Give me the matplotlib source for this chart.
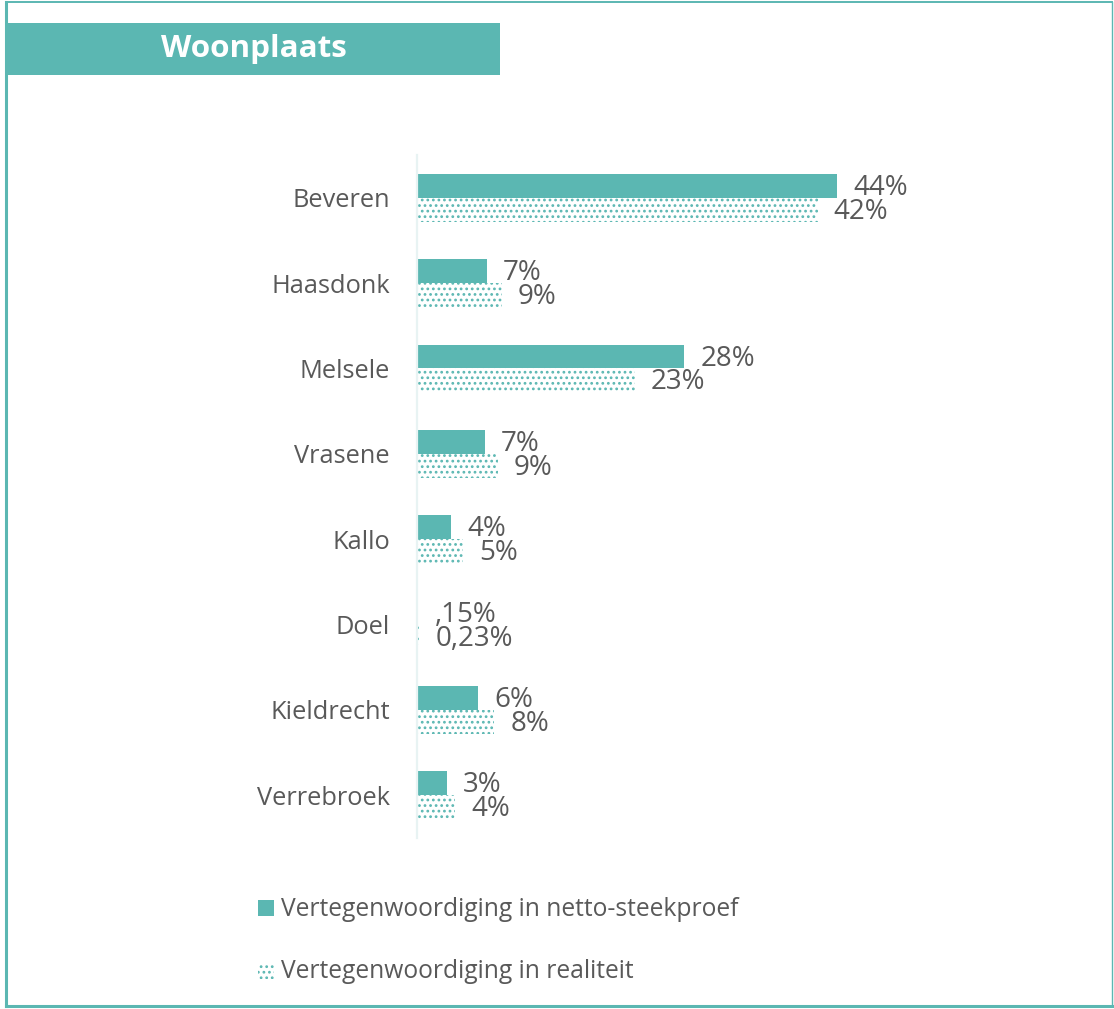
import matplotlib
matplotlib.use("Agg")
import matplotlib.pyplot as plt
from matplotlib.patches import Rectangle
from matplotlib.lines import Line2D

categories = ["Beveren", "Haasdonk", "Melsele", "Vrasene", "Kallo", "Doel", "Kieldrecht", "Verrebroek"]
steekproef = [44.0, 7.3, 28.0, 7.1, 3.6, 0.15, 6.4, 3.1]
realiteit = [42.0, 8.9, 22.8, 8.5, 4.8, 0.23, 8.1, 4.0]
labels_steekproef = ["44%", "7%", "28%", "7%", "4%", ",15%", "6%", "3%"]
labels_realiteit = ["42%", "9%", "23%", "9%", "5%", "0,23%", "8%", "4%"]
legend_labels = ["Vertegenwoordiging in netto-steekproef", "Vertegenwoordiging in realiteit"]
title = "Woonplaats"

TEAL = "#5BB7B2"
GREY = "#595959"
FONT = "Open Sans"
W, H = 1114, 1009
plt.rcParams["hatch.linewidth"] = 1.2

fig = plt.figure(figsize=(W / 100, H / 100), dpi=100)

def fx(px):
    return px / W

def fy(py):
    return 1 - py / H

# axes
left, right_px, top, bottom = 417, 417 + 55 * 9.545, 155, 838
ax = fig.add_axes([fx(left), fy(bottom), fx(right_px - left), (bottom - top) / H])
ax.set_xlim(0, 55)
ax.set_ylim(len(categories) - 0.5, -0.5)

h = 0.28
ys = list(range(len(categories)))
b1 = ax.barh([y - h / 2 for y in ys], steekproef, height=h, color=TEAL, linewidth=0)
b2 = ax.barh([y + h / 2 for y in ys], realiteit, height=h, facecolor="white",
             edgecolor=TEAL, linewidth=0, hatch="...")

for y, v, lab in zip(ys, steekproef, labels_steekproef):
    ax.annotate(lab, (v, y - h / 2), xytext=(11.5, -1.5), textcoords="offset points",
                va="center", ha="left", fontsize=20, color=GREY, family=FONT)
for y, v, lab in zip(ys, realiteit, labels_realiteit):
    ax.annotate(lab, (v, y + h / 2), xytext=(11.5, -1.5), textcoords="offset points",
                va="center", ha="left", fontsize=20, color=GREY, family=FONT)

ax.set_yticks(ys)
ax.set_yticklabels(categories, fontsize=18.3, color=GREY, family=FONT)
ax.tick_params(axis="y", length=0, pad=19.5)
ax.set_xticks([])
for s in ["top", "right", "bottom"]:
    ax.spines[s].set_visible(False)
ax.spines["left"].set_color("#E8F3F3")
ax.spines["left"].set_linewidth(1.6)

# legend (manual)
fig.add_artist(Rectangle((fx(258), fy(916)), fx(16), 16 / H, facecolor=TEAL, linewidth=0))
fig.add_artist(Rectangle((fx(258), fy(979)), fx(16), 16 / H, facecolor="white",
                         edgecolor=TEAL, linewidth=0, hatch="..."))
fig.text(fx(281), fy(909), legend_labels[0], fontsize=17.7, color=GREY, family=FONT, va="center", ha="left")
fig.text(fx(281), fy(971), legend_labels[1], fontsize=17.7, color=GREY, family=FONT, va="center", ha="left")

# title box
fig.add_artist(Rectangle((fx(8), fy(75)), fx(492), 52 / H, facecolor=TEAL, linewidth=0))
fig.text(fx(254), fy(49), title, fontsize=22.6, color="white", weight="bold", family=FONT,
         va="center", ha="center")

# outer frame
fig.add_artist(Line2D([fx(6), fx(6)], [fy(2), fy(1006)], color=TEAL, lw=2.2))
fig.add_artist(Line2D([fx(6), fx(1112)], [fy(1006), fy(1006)], color=TEAL, lw=2.2))
fig.add_artist(Line2D([fx(6), fx(1112)], [fy(2), fy(2)], color=TEAL, lw=1.4))
fig.add_artist(Line2D([fx(1112), fx(1112)], [fy(2), fy(1006)], color=TEAL, lw=1.0))

fig.savefig("out.png", dpi=100)
